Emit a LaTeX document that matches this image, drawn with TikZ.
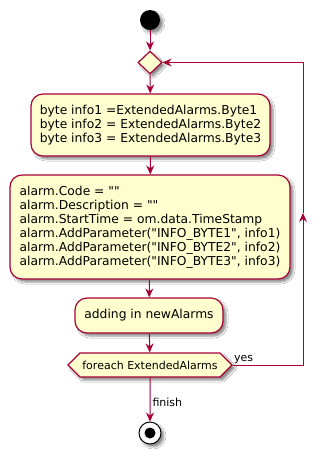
\documentclass[tikz,border=0pt]{standalone}
\usepackage{fontspec}
\setmainfont{DejaVu Sans}[Ligatures=TeXOff]
\usetikzlibrary{arrows.meta,shapes.geometric,shapes.symbols,shadows.blur}
\definecolor{umlfill}{HTML}{FEFECE}
\definecolor{umlline}{HTML}{A80036}

\begin{document}
\begin{tikzpicture}[x=1pt,y=-1pt,
  every node/.style={font=\fontsize{12.3}{14}\selectfont, inner sep=0pt},
  castshadow/.style={blur shadow={shadow xshift=3pt,shadow yshift=-3pt,shadow blur radius=2pt,shadow blur steps=5,shadow opacity=45}},
  action/.style={draw=umlline, fill=umlfill, line width=1.2pt, rounded corners=12pt, align=left, castshadow},
  merger/.style={diamond, draw=umlline, fill=umlfill, line width=1.2pt, minimum width=24pt, minimum height=23pt, castshadow},
  looptest/.style={signal, signal to=east and west, signal pointer angle=90, draw=umlline, fill=umlfill, line width=1.2pt, minimum height=24pt, minimum width=164pt, font=\fontsize{11}{13}\selectfont, castshadow},
  flow/.style={draw=umlline, line width=1pt, -{Stealth[length=9pt,width=8pt,inset=3pt]}},
  lbl/.style={font=\fontsize{11}{13}\selectfont}
]
\fill[white] (0,0) rectangle (327,451);
\useasboundingbox (0,0) rectangle (327,451);

% start / merge point
\node[circle, fill=black, minimum size=20pt, castshadow] (start) at (150,20) {};
\node[merger] (merge) at (150,62.5) {};

% actions
\node[action, minimum width=239pt, minimum height=62pt] (bytes) at (150.5,125)
  {byte info1 =ExtendedAlarms.Byte1\\
   byte info2 = ExtendedAlarms.Byte2\\
   byte info3 = ExtendedAlarms.Byte3};
\node[action, minimum width=280pt, minimum height=104pt] (alarm) at (150,227)
  {alarm.Code = ""\\
   alarm.Description = ""\\
   alarm.StartTime = om.data.TimeStamp\\
   alarm.AddParameter("INFO\_BYTE1", info1)\\
   alarm.AddParameter("INFO\_BYTE2", info2)\\
   alarm.AddParameter("INFO\_BYTE3", info3)};
\node[action, minimum width=148pt, minimum height=35pt] (adding) at (149,315.5)
  {adding in newAlarms};

% loop condition
\node[looptest] (loop) at (150,365) {foreach ExtendedAlarms};

% stop
\node[circle, draw=black, fill=white, line width=1pt, minimum size=22pt, castshadow] (stop) at (150,433) {};
\node[circle, fill=black, minimum size=11pt] (stopdot) at (stop) {};

% main flow
\draw[flow] (start) -- (merge);
\draw[flow] (merge) -- (bytes);
\draw[flow] (bytes) -- (alarm);
\draw[flow] (alarm) -- (adding);
\draw[flow] (adding) -- (loop);
\draw[flow] (loop) -- node[lbl, right, xshift=2pt, yshift=-3pt] (finishlbl) {finish} (stop);

% back edge
\coordinate (backbot) at (303,365);
\coordinate (backmid) at (303,213);
\coordinate (backtop) at (303,62.5);
\draw[flow] (loop.east) -- (backbot) -- (backmid);
\draw[flow] (backmid) -- (backtop) -- (merge.east);
\node[lbl, anchor=south west, xshift=1pt, yshift=1pt] (yeslbl) at (loop.east) {yes};
\end{tikzpicture}
\end{document}
